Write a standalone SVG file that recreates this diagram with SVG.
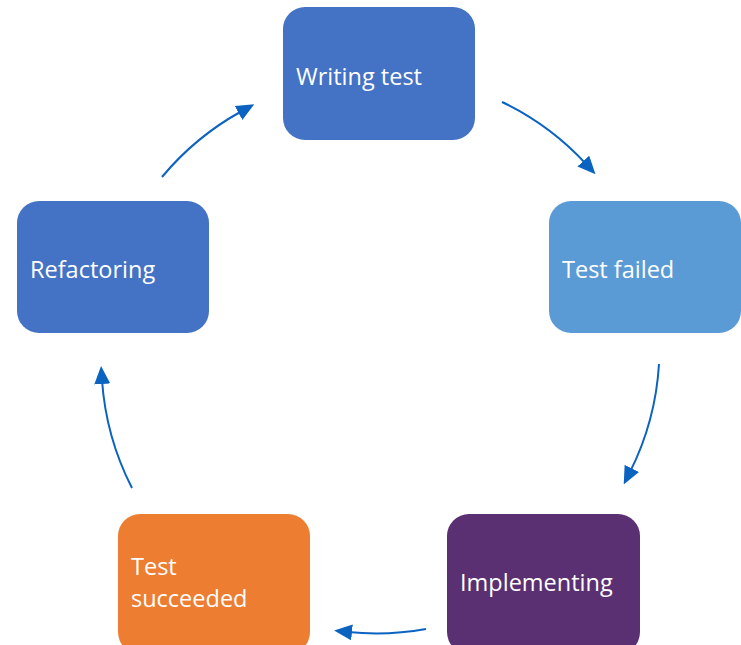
<svg xmlns="http://www.w3.org/2000/svg" width="741" height="645" viewBox="0 0 741 645">
<style>
.lbl{font-family:"Open Sans","Liberation Sans",sans-serif;font-size:23.5px;fill:#ffffff}
.edge{fill:none;stroke:#0B63C1;stroke-width:2}
</style>
<defs>
<marker id="ah" markerUnits="userSpaceOnUse" markerWidth="18" markerHeight="16" refX="4" refY="8" orient="auto">
<path d="M0,0 L18,8 L0,16 z" fill="#0B63C1"/>
</marker>
</defs>
<rect width="741" height="645" fill="#ffffff"/>
<g id="connectors">
<path class="edge" d="M502,102 A278,278 0 0 1 586,164" marker-end="url(#ah)"/>
<path class="edge" d="M659,364 A278,278 0 0 1 630,472" marker-end="url(#ah)"/>
<path class="edge" d="M426,629 A278,278 0 0 1 348,632" marker-end="url(#ah)"/>
<path class="edge" d="M132,488 A278,278 0 0 1 102,380" marker-end="url(#ah)"/>
<path class="edge" d="M162,177 A278,278 0 0 1 242,111" marker-end="url(#ah)"/>
</g>
<g id="writing-test">
<rect x="283" y="7" width="192" height="133" rx="22" fill="#4472C4"/>
<text class="lbl" x="296" y="85">Writing test</text>
</g>
<g id="test-failed">
<rect x="549" y="201" width="192" height="132" rx="22" fill="#5B9BD5"/>
<text class="lbl" x="562" y="278">Test failed</text>
</g>
<g id="implementing">
<rect x="447" y="514" width="193" height="140" rx="22" fill="#5A3072"/>
<text class="lbl" x="460" y="591">Implementing</text>
</g>
<g id="test-succeeded">
<rect x="118" y="514" width="192" height="140" rx="22" fill="#ED7D31"/>
<text class="lbl" x="131" y="575">Test</text>
<text class="lbl" x="131" y="607">succeeded</text>
</g>
<g id="refactoring">
<rect x="17" y="201" width="192" height="132" rx="22" fill="#4472C4"/>
<text class="lbl" x="30" y="278">Refactoring</text>
</g>
</svg>
